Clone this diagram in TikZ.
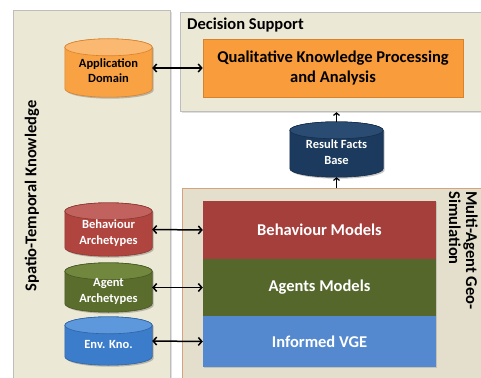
\documentclass[tikz,border=0pt]{standalone}
\usepackage{fontspec}
\setmainfont{Carlito}
\usetikzlibrary{shadows,arrows.meta,calc}
\pgfdeclarelayer{panellayer}
\pgfdeclarelayer{cyllayer}
\pgfsetlayers{panellayer,cyllayer,main}
\definecolor{panelfill}{HTML}{ECE8D6}
\definecolor{panelfilltwo}{HTML}{E3DFCC}
\definecolor{panelborder}{HTML}{BDBDBD}
\definecolor{tanborder}{HTML}{D6A47C}
\definecolor{orangefill}{HTML}{F89C3C}
\definecolor{orangecyl}{HTML}{F9A244}
\definecolor{orangetop}{HTML}{FBB870}
\definecolor{orangeline}{HTML}{D9822C}
\definecolor{redfill}{HTML}{A43F3C}
\definecolor{redcyl}{HTML}{B0453F}
\definecolor{redtop}{HTML}{C2625E}
\definecolor{greenfill}{HTML}{56672B}
\definecolor{greencyl}{HTML}{5A6D2D}
\definecolor{greentop}{HTML}{71873D}
\definecolor{bluefill}{HTML}{5489CF}
\definecolor{bluecyl}{HTML}{3B7DCB}
\definecolor{bluetop}{HTML}{5C98DB}
\definecolor{navyfill}{HTML}{1B3A5E}
\definecolor{navytop}{HTML}{2B4C72}
\tikzset{
  bigfont/.style={font=\bfseries\fontsize{16.5}{19.5}\selectfont},
  panel/.style={draw=panelborder, line width=1.2pt, fill=panelfill, rectangle, anchor=north west, inner sep=0pt,
    drop shadow={opacity=0.25, shadow xshift=1.5pt, shadow yshift=-1.5pt}},
  layerbox/.style={rectangle, inner sep=0pt, bigfont, text=white,
    drop shadow={opacity=0.3, shadow xshift=1.2pt, shadow yshift=-1.2pt}},
  cylnode/.style={rectangle, inner sep=0pt, font=\bfseries\fontsize{12.5}{15.5}\selectfont, align=center, text=white},
  biarrow/.style={{Straight Barb[length=3.5pt,width=8pt]}-{Straight Barb[length=3.5pt,width=8pt]}, line width=1.5pt, black},
  uparrow/.style={-{Straight Barb[length=2.5pt,width=6pt]}, line width=1.2pt, black},
}
% #1 node name, #2 body colour, #3 top colour, #4 line colour
\newcommand\drawcyl[4]{%
  \begin{pgfonlayer}{cyllayer}
  \fill[black, opacity=0.22] let \p1=(#1.north west), \p2=(#1.south east), \n1={(\x2-\x1)/2}, \n2={8.5pt} in
    (\x1+1.5pt,\y1-\n2-1.5pt) -- (\x1+1.5pt,\y2+\n2-1.5pt) arc[start angle=180,end angle=360,x radius=\n1,y radius=\n2]
    -- (\x2+1.5pt,\y1-\n2-1.5pt) arc[start angle=0,end angle=180,x radius=\n1,y radius=\n2] -- cycle;
  \filldraw[fill=#2, draw=#4, line width=0.6pt] let \p1=(#1.north west), \p2=(#1.south east), \n1={(\x2-\x1)/2}, \n2={8.5pt} in
    (\x1,\y1-\n2) -- (\x1,\y2+\n2) arc[start angle=180,end angle=360,x radius=\n1,y radius=\n2]
    -- (\x2,\y1-\n2) arc[start angle=0,end angle=180,x radius=\n1,y radius=\n2] -- cycle;
  \filldraw[fill=#3, draw=#4, line width=0.6pt] let \p1=(#1.north west), \p2=(#1.south east), \n1={(\x2-\x1)/2}, \n2={8.5pt} in
    (\x1+\n1,\y1-\n2) ellipse[x radius=\n1, y radius=\n2];
  \end{pgfonlayer}}
\newcommand\cyltxt[1]{\raisebox{-4pt}[\height][\depth]{\begin{tabular}{@{}c@{}}#1\end{tabular}}}
\begin{document}
\begin{tikzpicture}[x=1pt,y=-1pt]
\useasboundingbox (0,0) rectangle (481,377);
\clip (0,0) rectangle (481,377);
\begin{pgfonlayer}{panellayer}
\fill[white] (0,0) rectangle (481,377);
% panels
\node[panel, minimum width=157pt, minimum height=380pt] (stk) at (13,10) {};
\node[panel, minimum width=310pt, minimum height=99pt] (ds) at (180,12) {};
\node[panel, draw=tanborder, fill=panelfilltwo, minimum width=310pt, minimum height=200pt] (mas) at (182,188) {};
\end{pgfonlayer}
% labels
\node[anchor=west, bigfont, inner sep=0pt] (dslabel) at (187,25) {Decision Support};
\node[rotate=90, bigfont, inner sep=0pt] (stklabel) at (32,196) {Spatio-Temporal Knowledge};
\node[rotate=-90, anchor=north west, align=left, font=\bfseries\fontsize{16.5}{17}\selectfont, inner sep=0pt] (maslabel) at (478,191) {Multi-Agent Geo-\\Simulation};
% boxes
\node[layerbox, fill=orangefill, draw=orangeline, line width=0.6pt, text=black, align=center, minimum width=260pt, minimum height=58pt] (qual) at (333,68) {Qualitative Knowledge Processing\\and Analysis};
\node[layerbox, fill=redfill, minimum width=233pt, minimum height=58pt] (beh) at (319.5,230) {Behaviour Models};
\node[layerbox, fill=greenfill, minimum width=233pt, minimum height=57pt] (agt) at (319.5,287.5) {Agents Models};
\node[layerbox, fill=bluefill, minimum width=233pt, minimum height=51pt] (vge) at (319.5,341.5) {Informed VGE};
% cylinders
\node[cylnode, text=black, minimum width=87pt, minimum height=58pt] (app) at (108.5,68) {\cyltxt{Application\\Domain}};
\drawcyl{app}{orangecyl}{orangetop}{orangeline}
\node[cylnode, minimum width=93pt, minimum height=55pt] (res) at (336.5,149.5) {\cyltxt{Result Facts\\Base}};
\drawcyl{res}{navyfill}{navytop}{navyfill!80!black}
\node[cylnode, minimum width=87pt, minimum height=53pt] (bar) at (108.5,229.5) {\cyltxt{Behaviour\\Archetypes}};
\drawcyl{bar}{redcyl}{redtop}{redcyl!80!black}
\node[cylnode, minimum width=87pt, minimum height=49pt] (aar) at (108.5,287.5) {\cyltxt{Agent\\Archetypes}};
\drawcyl{aar}{greencyl}{greentop}{greencyl!80!black}
\node[cylnode, minimum width=87pt, minimum height=48pt] (env) at (108.5,341) {\cyltxt{Env. Kno.}};
\drawcyl{env}{bluecyl}{bluetop}{bluecyl!80!black}
% connectors
\draw[biarrow] (app.east) -- (qual.west);
\draw[biarrow] (bar.east) -- (beh.west);
\draw[biarrow] (aar.east) -- (agt.west);
\draw[biarrow] (env.east) -- (vge.west);
\draw[uparrow] (res.north) -- (res.north |- ds.south);
\draw[uparrow] (res.south |- mas.north) -- (res.south);
\end{tikzpicture}
\end{document}
